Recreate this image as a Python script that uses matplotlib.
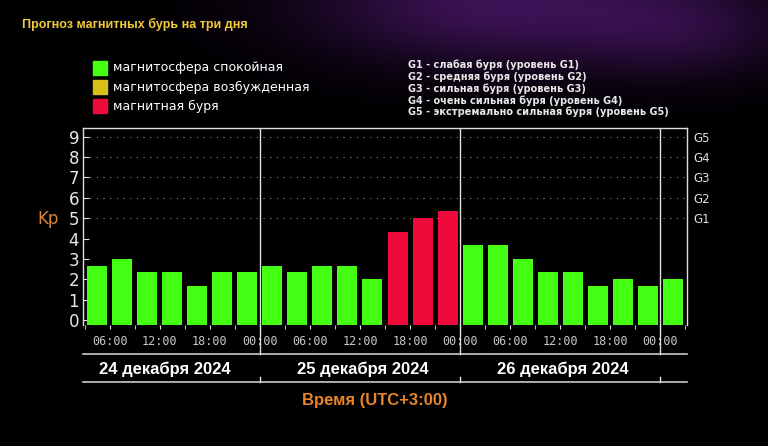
import numpy as np
import matplotlib

matplotlib.use("Agg")
import matplotlib.pyplot as plt
from matplotlib import transforms
from matplotlib.patches import Rectangle

# Kp forecast, 3-hour slots (first visible slot starts 24 Dec 03:00)
kp_day1 = [2.67, 3.0, 2.33, 2.33, 1.67, 2.33, 2.33]
kp_day2 = [2.67, 2.33, 2.67, 2.67, 2.0, 4.33, 5.0, 5.33]
kp_day3 = [3.67, 3.67, 3.0, 2.33, 2.33, 1.67, 2.0, 1.67]
kp_day4 = [2.0]

day_labels = ["24 декабря 2024", "25 декабря 2024", "26 декабря 2024"]
legend_labels = ["магнитосфера спокойная", "магнитосфера возбужденная", "магнитная буря"]
g_levels = [5, 6, 7, 8, 9]
g_labels = ["G1", "G2", "G3", "G4", "G5"]
g_descriptions = [
    "G1 - слабая буря (уровень G1)",
    "G2 - средняя буря (уровень G2)",
    "G3 - сильная буря (уровень G3)",
    "G4 - очень сильная буря (уровень G4)",
    "G5 - экстремально сильная буря (уровень G5)",
]

W, H = 768, 446
GREEN = "#44ff14"
YELLOW = "#d8c018"
RED = "#ee0a3a"
ORANGE = "#e8852a"
LINE = "#e0e0e0"


def fx(px):
    return px / W


def fy(py):
    return 1 - py / H


kp = np.array(kp_day1 + kp_day2 + kp_day3 + kp_day4)
centers = 3 * (np.arange(len(kp)) + 1) + 1.5
colors = [RED if v > 4 else GREEN for v in kp]

fig = plt.figure(figsize=(W / 100, H / 100), dpi=100, facecolor="black")

# background glow
bg = fig.add_axes([0, 0, 1, 1], zorder=-5)
yy, xx = np.mgrid[0:H, 0:W]
glow = np.exp(-((xx - 500) / 190.0) ** 2 - ((yy - 5) / 60.0) ** 2)
glow += 0.5 * np.exp(-((xx - 690) / 110.0) ** 2 - ((yy - 30) / 50.0) ** 2)
img = np.zeros((H, W, 3))
img[..., 0] = glow * 60 / 255
img[..., 1] = glow * 18 / 255
img[..., 2] = glow * 85 / 255
bg.imshow(np.clip(img, 0, 1), aspect="auto", extent=(0, W, H, 0))
bg.set_axis_off()

ax = fig.add_axes([fx(83.3), fy(325), fx(686.7) - fx(83.3), fy(128) - fy(325)])
ax.set_facecolor("black")
YMIN, YMAX = -0.25, 9.43
XMIN, XMAX = 2.85, 75.15
ax.set_xlim(XMIN, XMAX)
ax.set_ylim(YMIN, YMAX)

ax.bar(centers, kp - YMIN, bottom=YMIN, width=2.4, color=colors, zorder=3)
ax.hlines(g_levels, XMIN, XMAX, colors="#8a8a8a", linestyles=(0, (1, 5)), linewidth=0.8, zorder=1)

for s in ["left", "right", "top"]:
    ax.spines[s].set_color(LINE)
    ax.spines[s].set_linewidth(1)
ax.spines["bottom"].set_visible(False)

ax.set_yticks(range(10))
ax.tick_params(axis="y", direction="in", length=4, color=LINE, right=True,
               labelsize=12, labelcolor="#e6e6e6", pad=3)

ax.set_xticks(np.arange(6, 73, 6))
ax.set_xticklabels([f"{h % 24:02d}:00" for h in np.arange(6, 73, 6)],
                   family="DejaVu Sans Mono", fontsize=8.5, color="#c8c8c8")
ax.set_xticks(np.arange(3, 76, 6), minor=True)
ax.tick_params(axis="x", which="both", direction="out", length=3, color=LINE, pad=4)

ax2 = ax.twinx()
ax2.set_ylim(YMIN, YMAX)
ax2.set_yticks(g_levels)
ax2.set_yticklabels(g_labels, fontsize=8.5, color="#e0e0e0")
ax2.tick_params(axis="y", length=0, pad=5)
for s in ax2.spines.values():
    s.set_visible(False)

trans = transforms.blended_transform_factory(ax.transData, fig.transFigure)
for d in [24, 48, 72]:
    ax.axvline(d, color=LINE, linewidth=1, zorder=4)
    ax.plot([d, d], [fy(325), fy(354)], transform=trans, color=LINE, lw=1, clip_on=False, zorder=5)
    ax.plot([d, d], [fy(377), fy(382)], transform=trans, color=LINE, lw=1, clip_on=False, zorder=5)
for y in [354, 382]:
    ax.plot([XMIN, XMAX], [fy(y), fy(y)], transform=trans, color="#c8c8c8", lw=1.2, clip_on=False)

day_centers = [12.6, 36.4, 60.3]
for c, lab in zip(day_centers, day_labels):
    ax.text(c, fy(369), lab, transform=trans, ha="center", va="center",
            color="white", fontsize=12, weight="bold", family="Liberation Sans")

fig.text(fx(375), fy(401), "Время (UTC+3:00)", ha="center", va="center",
         color=ORANGE, fontsize=12, weight="bold", family="Liberation Sans")
fig.text(fx(48), fy(219), "Kp", ha="center", va="center", color="#d4843c", fontsize=12)

fig.text(fx(22), fy(24), "Прогноз магнитных бурь на три дня", ha="left", va="center",
         color="#f0c83c", fontsize=9, weight="bold", family="Liberation Sans")

for i, (lab, c) in enumerate(zip(legend_labels, [GREEN, YELLOW, RED])):
    yc = 68 + i * 19
    fig.patches.append(Rectangle((fx(93), fy(yc + 7)), 14 / W, 14 / H,
                                 transform=fig.transFigure, color=c))
    fig.text(fx(113), fy(yc), lab, ha="left", va="center", color="white", fontsize=9)

for i, lab in enumerate(g_descriptions):
    fig.text(fx(408), fy(65 + i * 11.75), lab, ha="left", va="center",
             color="#e8e8e8", fontsize=7, weight="bold")

fig.savefig("out.png", dpi=100, facecolor="black")
